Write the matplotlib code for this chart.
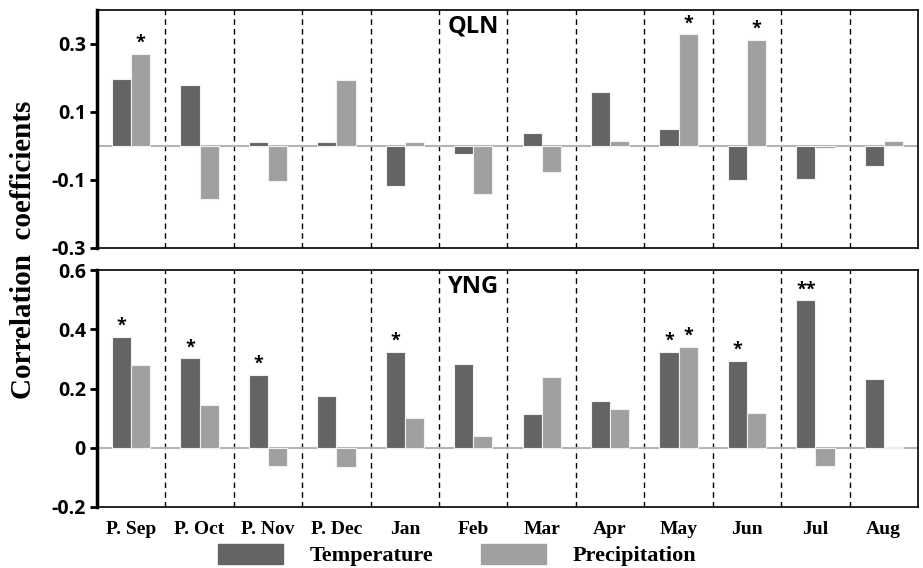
import numpy as np
from matplotlib import pyplot as plt
from matplotlib.patches import Patch

months = ["P. Sep", "P. Oct", "P. Nov", "P. Dec", "Jan", "Feb",
          "Mar", "Apr", "May", "Jun", "Jul", "Aug"]

# QLN correlations
qln_temp = [0.196, 0.178, 0.012, 0.012, -0.119, -0.024, 0.039, 0.158, 0.050, -0.100, -0.096, -0.058]
qln_prec = [0.272, -0.156, -0.104, 0.193, 0.012, -0.141, -0.077, 0.016, 0.328, 0.313, -0.006, 0.016]
qln_temp_sig = ["", "", "", "", "", "", "", "", "", "", "", ""]
qln_prec_sig = ["*", "", "", "", "", "", "", "", "*", "*", "", ""]

# YNG correlations
yng_temp = [0.375, 0.302, 0.247, 0.174, 0.324, 0.284, 0.114, 0.157, 0.324, 0.293, 0.498, 0.233]
yng_prec = [0.281, 0.143, -0.061, -0.065, 0.101, 0.041, 0.238, 0.131, 0.340, 0.118, -0.061, 0.002]
yng_temp_sig = ["*", "*", "*", "", "*", "", "", "", "*", "*", "**", ""]
yng_prec_sig = ["", "", "", "", "", "", "", "", "*", "", "", ""]

c_temp = "#646464"
c_prec = "#a0a0a0"
serif = "Liberation Serif"
sans = "Open Sans"

fig = plt.figure(figsize=(9.23, 5.68), dpi=100)
ax1 = fig.add_axes([0.105, 0.5634, 0.8896, 0.419])
ax2 = fig.add_axes([0.105, 0.1074, 0.8896, 0.4172])

x = np.arange(len(months))
w = 0.28


def panel(ax, temp, prec, tsig, psig, ylim, yticks, ylabels, name):
    ax.bar(x - w / 2, temp, w, color=c_temp, edgecolor="#f0f0f0", linewidth=0.8, zorder=3)
    ax.bar(x + w / 2, prec, w, color=c_prec, edgecolor="#f0f0f0", linewidth=0.8, zorder=3)
    ax.axhline(0, color="#b4b4b4", lw=1.5, zorder=2)
    for b in np.arange(0.5, len(months) - 1, 1):
        ax.axvline(b, color="black", lw=1, ls=(0, (4, 3)), zorder=1)
    for i in range(len(months)):
        if tsig[i]:
            ax.text(x[i] - w / 2, max(temp[i], 0) + 0.008 * (ylim[1] - ylim[0]), tsig[i],
                    ha="center", va="bottom", fontsize=13, fontweight="bold", family=sans)
        if psig[i]:
            ax.text(x[i] + w / 2, max(prec[i], 0) + 0.008 * (ylim[1] - ylim[0]), psig[i],
                    ha="center", va="bottom", fontsize=13, fontweight="bold", family=sans)
    ax.set_xlim(-0.5, len(months) - 0.5)
    ax.set_ylim(*ylim)
    ax.set_yticks(yticks)
    ax.set_yticklabels(ylabels, fontsize=14, fontweight="bold", family=sans)
    ax.tick_params(axis="y", direction="out", length=5, width=2, pad=3)
    ax.spines["left"].set_linewidth(2.5)
    for s in ["top", "right", "bottom"]:
        ax.spines[s].set_linewidth(1.2)
    ax.text(5, ylim[1] - 0.07 * (ylim[1] - ylim[0]), name, ha="center", va="center",
            fontsize=17, fontweight="bold", family=sans)


panel(ax1, qln_temp, qln_prec, qln_temp_sig, qln_prec_sig,
      (-0.3, 0.4), [-0.3, -0.1, 0.1, 0.3], ["-0.3", "-0.1", "0.1", "0.3"], "QLN")
ax1.set_xticks([])

panel(ax2, yng_temp, yng_prec, yng_temp_sig, yng_prec_sig,
      (-0.2, 0.6), [-0.2, 0, 0.2, 0.4, 0.6], ["-0.2", "0", "0.2", "0.4", "0.6"], "YNG")
ax2.set_xticks(x)
ax2.set_xticklabels(months, fontsize=14, fontweight="bold", family=serif)
ax2.tick_params(axis="x", length=0, pad=10)

fig.text(0.026, 0.56, "Correlation  coefficients", rotation=90, ha="center", va="center",
         fontsize=21, fontweight="bold", family=serif)

handles = [Patch(color=c_temp, label="Temperature"), Patch(color=c_prec, label="Precipitation")]
fig.legend(handles=handles, loc="center", bbox_to_anchor=(0.495, 0.023), ncol=2,
           frameon=False, handlelength=2.93, handleheight=1.0, columnspacing=2.15,
           handletextpad=1.2, borderpad=0, borderaxespad=0,
           prop={"family": serif, "weight": "bold", "size": 16})

plt.savefig("out.png", dpi=100)
